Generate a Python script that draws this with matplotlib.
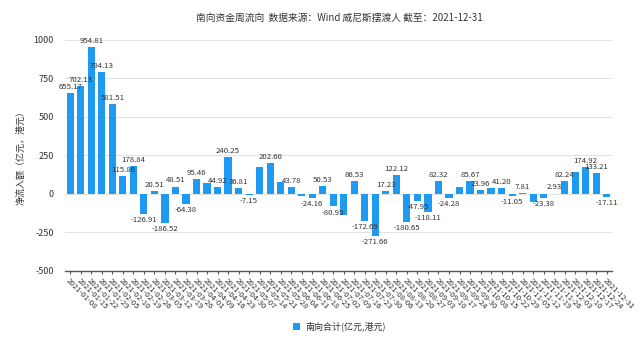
import matplotlib
matplotlib.use('Agg')
import matplotlib.pyplot as plt
from matplotlib.patches import Patch
import numpy as np

plt.rcParams['font.family'] = ['Noto Sans CJK SC', 'DejaVu Sans']
plt.rcParams['axes.unicode_minus'] = False

# weekly dates (Fridays / last trading day of each week)
dates = ['2021-01-08', '2021-01-15', '2021-01-22', '2021-01-29', '2021-02-05', '2021-02-10',
         '2021-02-19', '2021-02-26', '2021-03-05', '2021-03-12', '2021-03-19', '2021-03-26',
         '2021-04-01', '2021-04-09', '2021-04-16', '2021-04-23', '2021-04-30', '2021-05-07',
         '2021-05-14', '2021-05-21', '2021-05-28', '2021-06-04', '2021-06-11', '2021-06-18',
         '2021-06-25', '2021-07-02', '2021-07-09', '2021-07-16', '2021-07-23', '2021-07-30',
         '2021-08-06', '2021-08-13', '2021-08-20', '2021-08-27', '2021-09-03', '2021-09-10',
         '2021-09-17', '2021-09-24', '2021-09-30', '2021-10-08', '2021-10-15', '2021-10-22',
         '2021-10-29', '2021-11-05', '2021-11-12', '2021-11-19', '2021-11-26', '2021-12-03',
         '2021-12-10', '2021-12-17', '2021-12-24', '2021-12-31']
# net southbound inflow (100m HKD)
flows = [655.17, 702.13, 954.81, 794.13, 581.51, 115.86, 178.84, -126.91, 20.51, -186.52,
         48.51, -64.38, 95.46, 70.0, 44.92, 240.25, 36.81, -7.15, 175.0, 202.60,
         78.0, 43.78, -15.0, -24.16, 50.53, -80.95, -134.0, 86.53, -172.69, -271.66,
         17.23, 122.12, -180.65, -47.95, -118.11, 82.32, -24.28, 43.0, 85.67, 23.96,
         39.0, 41.20, -11.05, 7.81, -54.0, -23.38, 2.93, 82.24, 145.0, 174.92,
         133.21, -17.11]
# labels hidden in the original because of overlap
hidden = [13, 18, 20, 22, 26, 37, 40, 44, 48]

bar_color = '#1E9AF2'

fig = plt.figure(figsize=(6.4, 3.57), dpi=100)
ax = fig.add_axes([0.1016, 0.241, 0.8547, 0.647])
x = np.arange(len(dates))
ax.bar(x, flows, width=0.68, color=bar_color, zorder=3)

for i, v in enumerate(flows):
    if i in hidden:
        continue
    if v >= 0:
        ax.annotate('%.2f' % v, (i, v), xytext=(0, 1.5), textcoords='offset points',
                    ha='center', va='bottom', fontsize=5.6, color='#333333', zorder=4)
    else:
        ax.annotate('%.2f' % v, (i, v), xytext=(0, -1.5), textcoords='offset points',
                    ha='center', va='top', fontsize=5.6, color='#333333', zorder=4)

for side in ['left', 'right', 'top']:
    ax.spines[side].set_visible(False)
ax.spines['bottom'].set_color('#555555')
ax.spines['bottom'].set_linewidth(1.0)

ax.set_xlim(-0.5, len(dates) - 0.5)
ax.set_ylim(-500, 1000)
ax.set_yticks([-500, -250, 0, 250, 500, 750, 1000])
ax.set_xticks(x)
ax.set_xticklabels(dates, rotation=-45, ha='left', va='top', rotation_mode='anchor',
                   fontsize=5.6, color='#333333')
ax.tick_params(axis='y', length=0, labelsize=6.5, labelcolor='#333333', pad=8)
ax.tick_params(axis='x', length=2, color='#555555', pad=2)
ax.grid(axis='y', color='#e3e3e3', linewidth=0.8, zorder=0)

ax.set_ylabel('净流入额（亿元，港元）', fontsize=6.5, color='#333333', labelpad=6)
fig.suptitle('南向资金周流向  数据来源：Wind 威尼斯摆渡人 截至：2021-12-31',
             fontsize=7, color='#333333', y=0.965, x=0.53)

handle = Patch(facecolor=bar_color, edgecolor='none')
fig.legend([handle], ['南向合计(亿元,港元)'], loc='center', bbox_to_anchor=(0.53, 0.085),
           frameon=False, fontsize=6.5, handlelength=0.8, handleheight=0.8,
           handletextpad=0.6, labelcolor='#333333')

plt.savefig('out.png', dpi=100)
